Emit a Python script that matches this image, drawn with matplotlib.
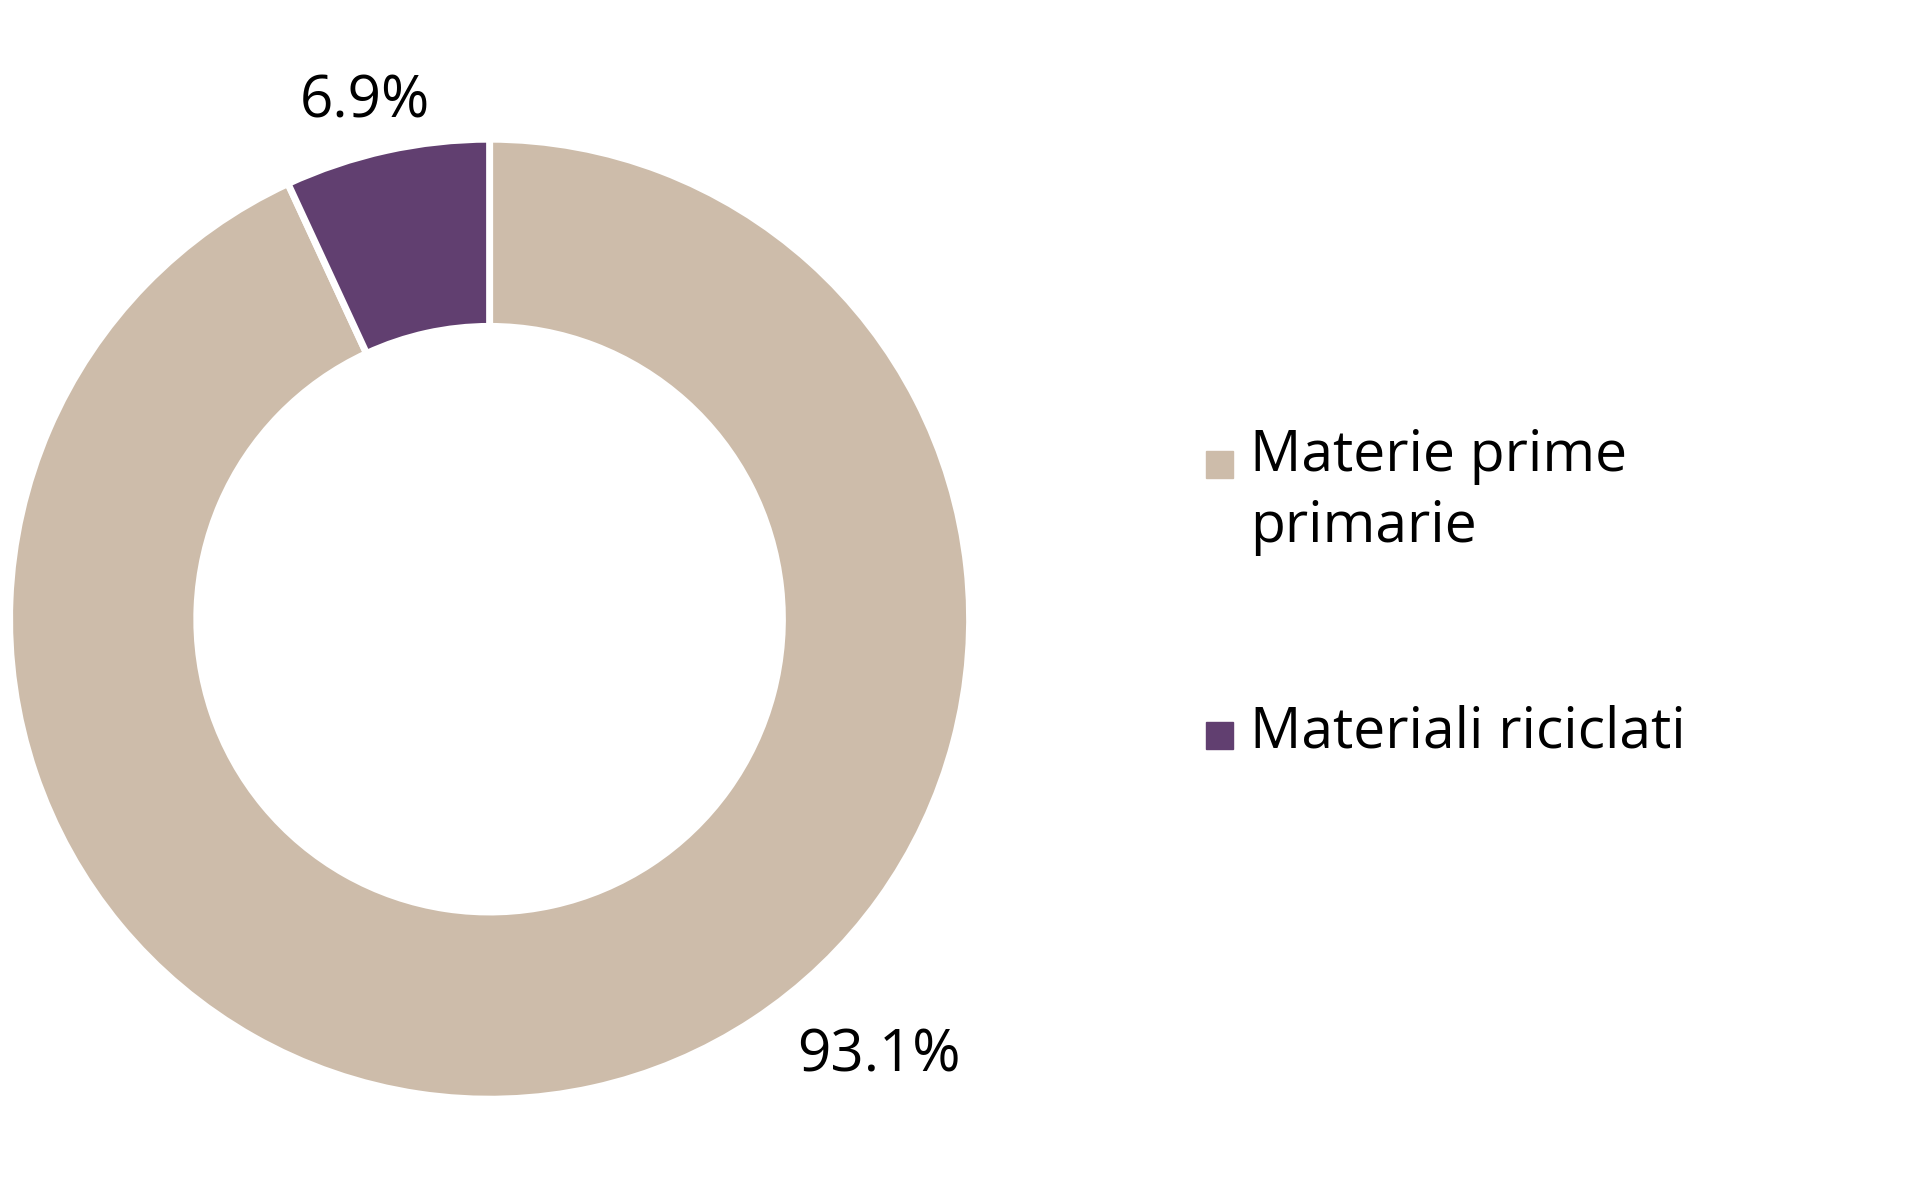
import matplotlib
matplotlib.use("Agg")

import matplotlib.pyplot as plt
from matplotlib.patches import Rectangle

categories = ["Materie prime\nprimarie", "Materiali riciclati"]
values = [93.1, 6.9]
colors = ["#cdbcaa", "#613f70"]

plt.rcParams['font.family'] = ['Open Sans', 'DejaVu Sans']

fig = plt.figure(figsize=(19.2, 12), dpi=100)
ax = fig.add_axes([0.005, 0.084, 0.5, 0.8])
ax.pie(values, colors=colors, startangle=90, counterclock=False, radius=1.0,
       wedgeprops=dict(width=0.39, edgecolor="white", linewidth=5))
ax.set_xlim(-1.0, 1.0)
ax.set_ylim(-1.0, 1.0)
ax.set_aspect("equal")

# value labels placed by hand, as in the reference
fig.text(0.19, 0.915, f"{values[1]:.1f}%", fontsize=42, ha="center", va="center")
fig.text(0.458, 0.12, f"{values[0]:.1f}%", fontsize=42, ha="center", va="center")

# legend
leg_y = [0.6125, 0.3875]
sq_w = 27 / 1920
sq_h = 27 / 1200
for cat, col, y in zip(categories, colors, leg_y):
    fig.patches.append(Rectangle((0.628, y - sq_h / 2), sq_w, sq_h,
                                 transform=fig.transFigure, color=col))
    if "\n" in cat:
        fig.text(0.651, y + 0.031, cat, fontsize=41, ha="left", va="top",
                 linespacing=1.33)
    else:
        fig.text(0.651, y + 0.002, cat, fontsize=41, ha="left", va="center")

fig.savefig("out.png", dpi=100)
plt.close(fig)
